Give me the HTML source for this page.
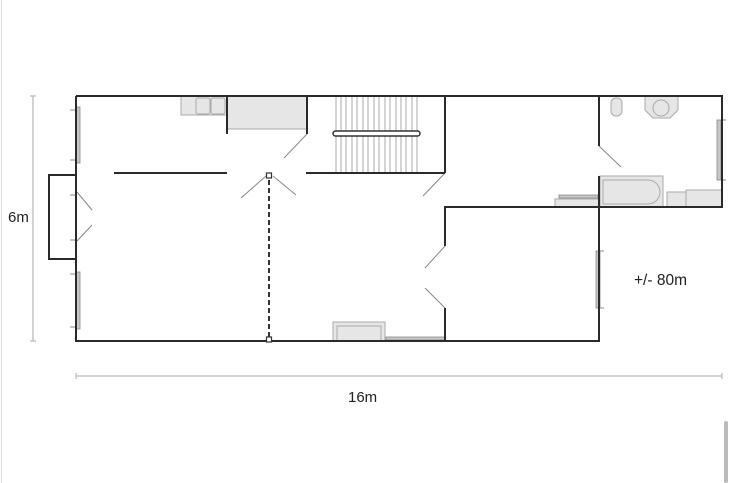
<!DOCTYPE html>
<html><head><style>
html,body{margin:0;padding:0;background:#fff;width:736px;height:483px;overflow:hidden}
svg{display:block}
text{font-family:"Liberation Sans",sans-serif;fill:#222}
</style></head><body>
<svg width="736" height="483" viewBox="0 0 736 483" xmlns="http://www.w3.org/2000/svg">
<line x1="1.5" y1="0" x2="1.5" y2="483" stroke="#ddd" stroke-width="1"/>
<rect x="724" y="421" width="4" height="62" rx="2" fill="#bbb"/>
<g stroke="#bbb" stroke-width="1.3">
<line x1="33" y1="96" x2="33" y2="341"/><line x1="30" y1="96" x2="36" y2="96"/><line x1="30" y1="341" x2="36" y2="341"/>
<line x1="76" y1="376" x2="722" y2="376"/><line x1="76" y1="373" x2="76" y2="379"/><line x1="722" y1="373" x2="722" y2="379"/>
</g>
<text x="8" y="222" font-size="15">6m</text>
<text x="348" y="402" font-size="15">16m</text>
<text x="634" y="285" font-size="15.5">+/- 80m</text>
<g fill="#e6e6e6" stroke="#aaa" stroke-width="1">
<rect x="181" y="96" width="46" height="19"/>
<rect x="196" y="98" width="14" height="16" rx="2"/><rect x="211" y="98" width="14" height="16" rx="2"/>
<rect x="227" y="96" width="80" height="33"/>
<rect x="333" y="322" width="52" height="19"/>
<rect x="337" y="326" width="44" height="15"/>
<rect x="600" y="176" width="63" height="31"/>
<path d="M603 180 H648 A12 12 0 0 1 648 204 H603 Z"/>
<rect x="667" y="192" width="19" height="15"/><rect x="686" y="190" width="36" height="17"/>
<rect x="555" y="199" width="44" height="8"/>
<rect x="611" y="98" width="11" height="18" rx="5"/>
<path d="M645 96 H678 V110 L670 118 H653 L645 110 Z"/>
<circle cx="661" cy="108" r="8"/>
</g>
<g fill="#c8c8c8" stroke="#888" stroke-width="0.8">
<rect x="76" y="107" width="4" height="56"/><rect x="76" y="272" width="4" height="57"/>
<rect x="717" y="120" width="4" height="60"/><rect x="596" y="251" width="4" height="57"/>
<rect x="559" y="195" width="39" height="3"/><rect x="386" y="337" width="59" height="3"/>
</g>
<g stroke="#888" stroke-width="1">
<line x1="70" y1="110" x2="76" y2="110"/><line x1="70" y1="160" x2="76" y2="160"/>
<line x1="70" y1="274" x2="76" y2="274"/><line x1="70" y1="327" x2="76" y2="327"/>
<line x1="70" y1="195" x2="76" y2="195"/><line x1="70" y1="240" x2="76" y2="240"/>
<line x1="722" y1="120" x2="726" y2="120"/><line x1="722" y1="180" x2="726" y2="180"/>
<line x1="600" y1="251" x2="604" y2="251"/><line x1="600" y1="308" x2="604" y2="308"/>
</g>
<g stroke="#aaa" stroke-width="1">
<line x1="336" y1="96" x2="336" y2="172"/><line x1="341" y1="96" x2="341" y2="172"/><line x1="346" y1="96" x2="346" y2="172"/><line x1="352" y1="96" x2="352" y2="172"/><line x1="357" y1="96" x2="357" y2="172"/><line x1="363" y1="96" x2="363" y2="172"/><line x1="368" y1="96" x2="368" y2="172"/><line x1="374" y1="96" x2="374" y2="172"/><line x1="379" y1="96" x2="379" y2="172"/><line x1="385" y1="96" x2="385" y2="172"/><line x1="390" y1="96" x2="390" y2="172"/><line x1="396" y1="96" x2="396" y2="172"/><line x1="401" y1="96" x2="401" y2="172"/><line x1="406" y1="96" x2="406" y2="172"/><line x1="412" y1="96" x2="412" y2="172"/><line x1="417" y1="96" x2="417" y2="172"/>
</g>
<rect x="333" y="131" width="87" height="5" rx="2.5" fill="#fff" stroke="#333" stroke-width="1.5"/>
<g stroke="#888" stroke-width="1">
<line x1="77" y1="192" x2="92" y2="210"/><line x1="77" y1="241" x2="92" y2="225"/>
<line x1="307" y1="134" x2="284" y2="158"/>
<line x1="266" y1="176" x2="241" y2="198"/><line x1="273" y1="176" x2="296" y2="195"/>
<line x1="445" y1="173" x2="423" y2="196"/>
<line x1="445" y1="246" x2="425" y2="268"/><line x1="445" y1="308" x2="425" y2="288"/>
<line x1="599" y1="146" x2="621" y2="167"/>
</g>
<g stroke="#2a2a2a" stroke-width="2" fill="none">
<path d="M76 96 H722 V207 H445 V246"/>
<path d="M445 308 V341"/>
<path d="M599 207 V341 H76 V96"/>
<path d="M76 175 H49 V259 H76"/>
<path d="M114 173 H227 M306 173 H445"/>
<path d="M445 96 V173"/>
<path d="M227 96 V134 M307 96 V134"/>
<path d="M599 96 V146 M599 176 V207"/>
</g>
<line x1="269" y1="180" x2="269" y2="338" stroke="#333" stroke-width="2" stroke-dasharray="5,3"/>
<rect x="266.5" y="173" width="5" height="5" fill="#fff" stroke="#333" stroke-width="1.2"/>
<rect x="266.5" y="337" width="5" height="5" fill="#fff" stroke="#333" stroke-width="1.2"/>
</svg>
</body></html>
